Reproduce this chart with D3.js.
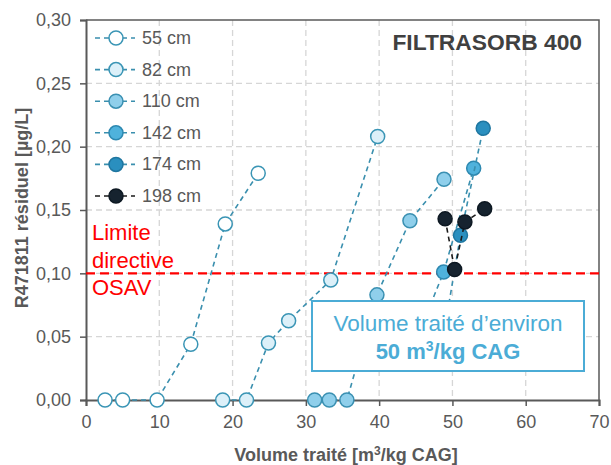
<!DOCTYPE html>
<html>
<head>
<meta charset="UTF-8">
<title>FILTRASORB 400</title>
<style>
  html, body { margin: 0; padding: 0; background: #fff; }
  svg { display: block; font-family: "Liberation Sans", Arial, sans-serif; }
</style>
</head>
<body>
<svg width="611" height="465"></svg>
<script src="https://d3js.org/d3.v7.min.js"></script>
<script>
// data
var seriesNames = ["55 cm", "82 cm", "110 cm", "142 cm", "174 cm", "198 cm"];
var x55 = [2.6, 5.0, 9.7, 14.3, 19.0, 23.5];
var y55 = [0, 0, 0, 0.044, 0.139, 0.179];
var x82 = [18.65, 21.9, 24.9, 27.65, 33.4, 39.8];
var y82 = [0, 0, 0.045, 0.0626, 0.0947, 0.208];
var x110 = [31.2, 33.2, 35.6, 39.7, 44.2, 48.85];
var y110 = [0, 0, 0, 0.083, 0.1415, 0.1742];
var x142 = [45.6, 48.8, 52.9];
var y142 = [0.055, 0.101, 0.183];
var x174 = [48.9, 51.1, 54.2];
var y174 = [0.055, 0.130, 0.2145];
var x198 = [49.0, 50.3, 51.7, 54.4];
var y198 = [0.143, 0.103, 0.1405, 0.151];
var xTicks = [0, 10, 20, 30, 40, 50, 60, 70];
var yTicks = [0, 0.05, 0.10, 0.15, 0.20, 0.25, 0.30];
var limit = 0.10;

var fills = ["#ffffff", "#dcf0f9", "#8fcfeb", "#4fb2dc", "#2a8fbf", "#16232f"];
var strokes = ["#3a95b5", "#3a95b5", "#3a90b2", "#2d88b0", "#1f76a0", "#0d1822"];
var lineCols = ["#3a8fae", "#3a8fae", "#3a8fae", "#3a8fae", "#3a8fae", "#1a1a1a"];

var data = [[x55, y55], [x82, y82], [x110, y110], [x142, y142], [x174, y174], [x198, y198]]
  .map(function (s, i) {
    return { name: seriesNames[i], pts: s[0].map(function (v, j) { return { x: v, y: s[1][j] }; }) };
  });

// layout
var svg = d3.select("svg");
var pLeft = 86, pRight = 599, pTop = 20, pBottom = 400;
var x = d3.scaleLinear().domain([0, 70]).range([pLeft, pRight]);
var y = d3.scaleLinear().domain([0, 0.30]).range([pBottom, pTop]);
var gray = "#595959";

// grid
svg.append("g").selectAll("line").data(xTicks.slice(1, -1)).enter().append("line")
  .attr("x1", function (d) { return x(d); }).attr("x2", function (d) { return x(d); })
  .attr("y1", pTop).attr("y2", pBottom)
  .attr("stroke", "#d6d6d6").attr("stroke-width", 1.3).attr("stroke-dasharray", "6,4");
svg.append("g").selectAll("line").data(yTicks.slice(1, -1)).enter().append("line")
  .attr("x1", pLeft).attr("x2", pRight)
  .attr("y1", function (d) { return y(d); }).attr("y2", function (d) { return y(d); })
  .attr("stroke", "#d6d6d6").attr("stroke-width", 1.3).attr("stroke-dasharray", "6,4");

// frame top / right
svg.append("path")
  .attr("d", "M" + pLeft + "," + pTop + "H" + pRight + "V" + pBottom)
  .attr("fill", "none").attr("stroke", gray).attr("stroke-width", 1.5);

// axes
var fmt = function (d) { return d3.format(".2f")(d).replace(".", ","); };
var yAxis = svg.append("g").attr("transform", "translate(" + pLeft + ",0)")
  .call(d3.axisLeft(y).tickValues(yTicks).tickFormat(fmt).tickSize(6).tickPadding(9));
var xAxis = svg.append("g").attr("transform", "translate(0," + pBottom + ")")
  .call(d3.axisBottom(x).tickValues(xTicks).tickSize(6).tickPadding(9));
[xAxis, yAxis].forEach(function (g) {
  g.select(".domain").attr("stroke", gray).attr("stroke-width", 2);
  g.selectAll(".tick line").attr("stroke", gray).attr("stroke-width", 1.5);
  g.selectAll(".tick text").attr("fill", gray).style("font-size", "18px")
    .style("font-family", "'Liberation Sans', Arial, sans-serif");
});

// axis titles
svg.append("text").attr("x", 346).attr("y", 461)
  .attr("text-anchor", "middle").attr("fill", gray)
  .style("font-size", "18px").style("font-weight", "bold")
  .html("Volume traité [m<tspan dy='-6' font-size='12px'>3</tspan><tspan dy='6'>/kg CAG]</tspan>");
svg.append("text").attr("transform", "translate(28," + ((pTop + pBottom) / 2 - 2) + ") rotate(-90)")
  .attr("text-anchor", "middle").attr("fill", gray)
  .style("font-size", "18px").style("font-weight", "bold")
  .text("R471811 résiduel [µg/L]");

// limit line
svg.append("line").attr("x1", pLeft).attr("x2", pRight)
  .attr("y1", y(limit)).attr("y2", y(limit))
  .attr("stroke", "#ff0000").attr("stroke-width", 2.2).attr("stroke-dasharray", "9,5");

// series
var line = d3.line().x(function (d) { return x(d.x); }).y(function (d) { return y(d.y); });
data.forEach(function (s, i) {
  var g = svg.append("g");
  g.append("path").attr("d", line(s.pts)).attr("fill", "none")
    .attr("stroke", lineCols[i]).attr("stroke-width", 1.6).attr("stroke-dasharray", "5,4");
  g.selectAll("circle").data(s.pts).enter().append("circle")
    .attr("cx", function (d) { return x(d.x); }).attr("cy", function (d) { return y(d.y); })
    .attr("r", 7).attr("fill", fills[i]).attr("stroke", strokes[i]).attr("stroke-width", 1.5);
});

// legend
var leg = svg.append("g");
seriesNames.forEach(function (n, i) {
  var ly = 38 + i * 31.6;
  leg.append("line").attr("x1", 95).attr("x2", 135).attr("y1", ly).attr("y2", ly)
    .attr("stroke", lineCols[i]).attr("stroke-width", 1.6).attr("stroke-dasharray", "5,4");
  leg.append("circle").attr("cx", 116).attr("cy", ly).attr("r", 7)
    .attr("fill", fills[i]).attr("stroke", strokes[i]).attr("stroke-width", 1.5);
  leg.append("text").attr("x", 142).attr("y", ly + 6).attr("fill", gray)
    .style("font-size", "18px").text(n);
});

// title
svg.append("text").attr("x", 582).attr("y", 50).attr("text-anchor", "end")
  .attr("fill", "#404040").style("font-size", "22.8px").style("font-weight", "bold")
  .text("FILTRASORB 400");

// limit label
["Limite", "directive", "OSAV"].forEach(function (t, i) {
  svg.append("text").attr("x", 92).attr("y", 240 + i * 27.5).attr("fill", "#ff0000")
    .style("font-size", "22px").text(t);
});

// annotation box
var box = svg.append("g");
box.append("rect").attr("x", 312).attr("y", 301).attr("width", 272).attr("height", 70)
  .attr("fill", "#ffffff").attr("stroke", "#4bacd6").attr("stroke-width", 2);
box.append("text").attr("x", 448).attr("y", 331).attr("text-anchor", "middle")
  .attr("fill", "#4bacd6").style("font-size", "22.5px").text("Volume traité d’environ");
box.append("text").attr("x", 448).attr("y", 359).attr("text-anchor", "middle")
  .attr("fill", "#4bacd6").style("font-size", "22px").style("font-weight", "bold")
  .html("50 m<tspan dy='-8' font-size='14px'>3</tspan><tspan dy='8'>/kg CAG</tspan>");
</script>
</body>
</html>
